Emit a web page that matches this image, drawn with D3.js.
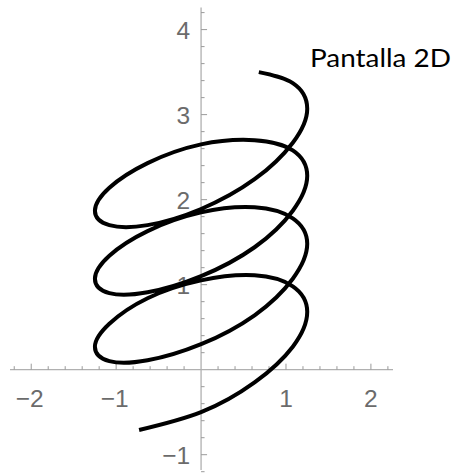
<!DOCTYPE html>
<html>
<head>
<meta charset="utf-8">
<script src="https://cdn.jsdelivr.net/npm/d3@7"></script>
<style>
  body { margin: 0; background: #fff; }
  svg { display: block; }
</style>
</head>
<body>
<script>
// points (x, y), in drawing order
const curveX = [-0.73, 0, 0.63, 1.08, 1.25, 1.08, 0.63, 0, -0.63, -1.08, -1.25, -1.08, -0.63, 0, 0.63, 1.08,
  1.25, 1.08, 0.63, 0, -0.63, -1.08, -1.25, -1.08, -0.63, 0, 0.63, 1.08,
  1.25, 1.08, 0.63, 0, -0.63, -1.08, -1.25, -1.08, -0.63, 0, 0.63, 1.08,
  1.25, 1.08, 0.68];
const curveY = [-0.71, -0.50, -0.15, 0.27, 0.68, 0.98, 1.11, 1.05, 0.84, 0.54, 0.27, 0.10, 0.11, 0.30, 0.64, 1.07,
  1.48, 1.78, 1.91, 1.85, 1.63, 1.34, 1.07, 0.90, 0.91, 1.10, 1.44, 1.87,
  2.28, 2.58, 2.70, 2.65, 2.43, 2.14, 1.87, 1.70, 1.70, 1.89, 2.24, 2.67,
  3.07, 3.37, 3.50];
const xTickLabels = [-2, -1, 1, 2];
const yTickLabels = [-1, 1, 2, 3, 4];
const labelText = "Pantalla 2D";

let width = 457;
let height = 473;

let svg = d3.select("body").append("svg")
  .attr("width", width)
  .attr("height", height);

let x = d3.scaleLinear().domain([-2.25, 2.26]).range([10, 393]);
let y = d3.scaleLinear().domain([-1.18, 4.26]).range([470, 7.5]);

let axisColor = "#b0b0b0";
let tickColor = "#9a9a9a";
let textColor = "#6b6b6b";

/* minor ticks every 0.2 */
let xMinor = d3.range(-11, 12).map(d => d / 5).filter(d => d !== 0);
let yMinor = d3.range(-6, 22).map(d => d / 5).filter(d => d !== 0);

// x axis
let gx = svg.append("g").attr("transform", "translate(0," + y(0) + ")");
gx.append("line").attr("x1", x(-2.25)).attr("x2", x(2.26))
  .attr("stroke", axisColor).attr("stroke-width", 1.3);
gx.selectAll(".mt").data(xMinor).join("line")
  .attr("x1", d => x(d)).attr("x2", d => x(d))
  .attr("y1", 0).attr("y2", d => Number.isInteger(d) ? -6 : -3.5)
  .attr("stroke", tickColor).attr("stroke-width", 1);
gx.selectAll("text").data(xTickLabels).join("text")
  .attr("x", d => x(d) - (d < 0 ? 1.5 : 0)).attr("y", 37)
  .attr("text-anchor", "middle")
  .attr("font-family", "'Liberation Sans', Arial, sans-serif")
  .attr("font-size", 24.5)
  .attr("fill", textColor)
  .text(d => d < 0 ? "\u2212" + Math.abs(d) : d);

// y axis
let gy = svg.append("g").attr("transform", "translate(" + x(0) + ",0)");
gy.append("line").attr("y1", y(4.26)).attr("y2", y(-1.18))
  .attr("stroke", axisColor).attr("stroke-width", 1.3);
gy.selectAll(".mt").data(yMinor).join("line")
  .attr("y1", d => y(d)).attr("y2", d => y(d))
  .attr("x1", 0).attr("x2", d => Number.isInteger(d) ? 6 : 3.5)
  .attr("stroke", tickColor).attr("stroke-width", 1);
gy.selectAll("text").data(yTickLabels).join("text")
  .attr("x", -11).attr("y", d => y(d) + 9)
  .attr("text-anchor", "end")
  .attr("font-family", "'Liberation Sans', Arial, sans-serif")
  .attr("font-size", 24.5)
  .attr("fill", textColor)
  .text(d => d < 0 ? "\u2212" + Math.abs(d) : d);

// the curve
let pts = curveX.map((d, i) => [d, curveY[i]]);
let line = d3.line()
  .x(d => x(d[0]))
  .y(d => y(d[1]))
  .curve(d3.curveNatural);

svg.append("path")
  .attr("d", line(pts))
  .attr("fill", "none")
  .attr("stroke", "#000")
  .attr("stroke-width", 4)
  .attr("stroke-linecap", "butt")
  .attr("stroke-linejoin", "round");

// label
svg.append("text")
  .attr("x", 310).attr("y", 66.5)
  .attr("font-family", "Lato, 'Open Sans', sans-serif")
  .attr("font-size", 25.5)
  .attr("fill", "#000")
  .attr("textLength", 141)
  .attr("lengthAdjust", "spacingAndGlyphs")
  .text(labelText);
</script>
</body>
</html>
